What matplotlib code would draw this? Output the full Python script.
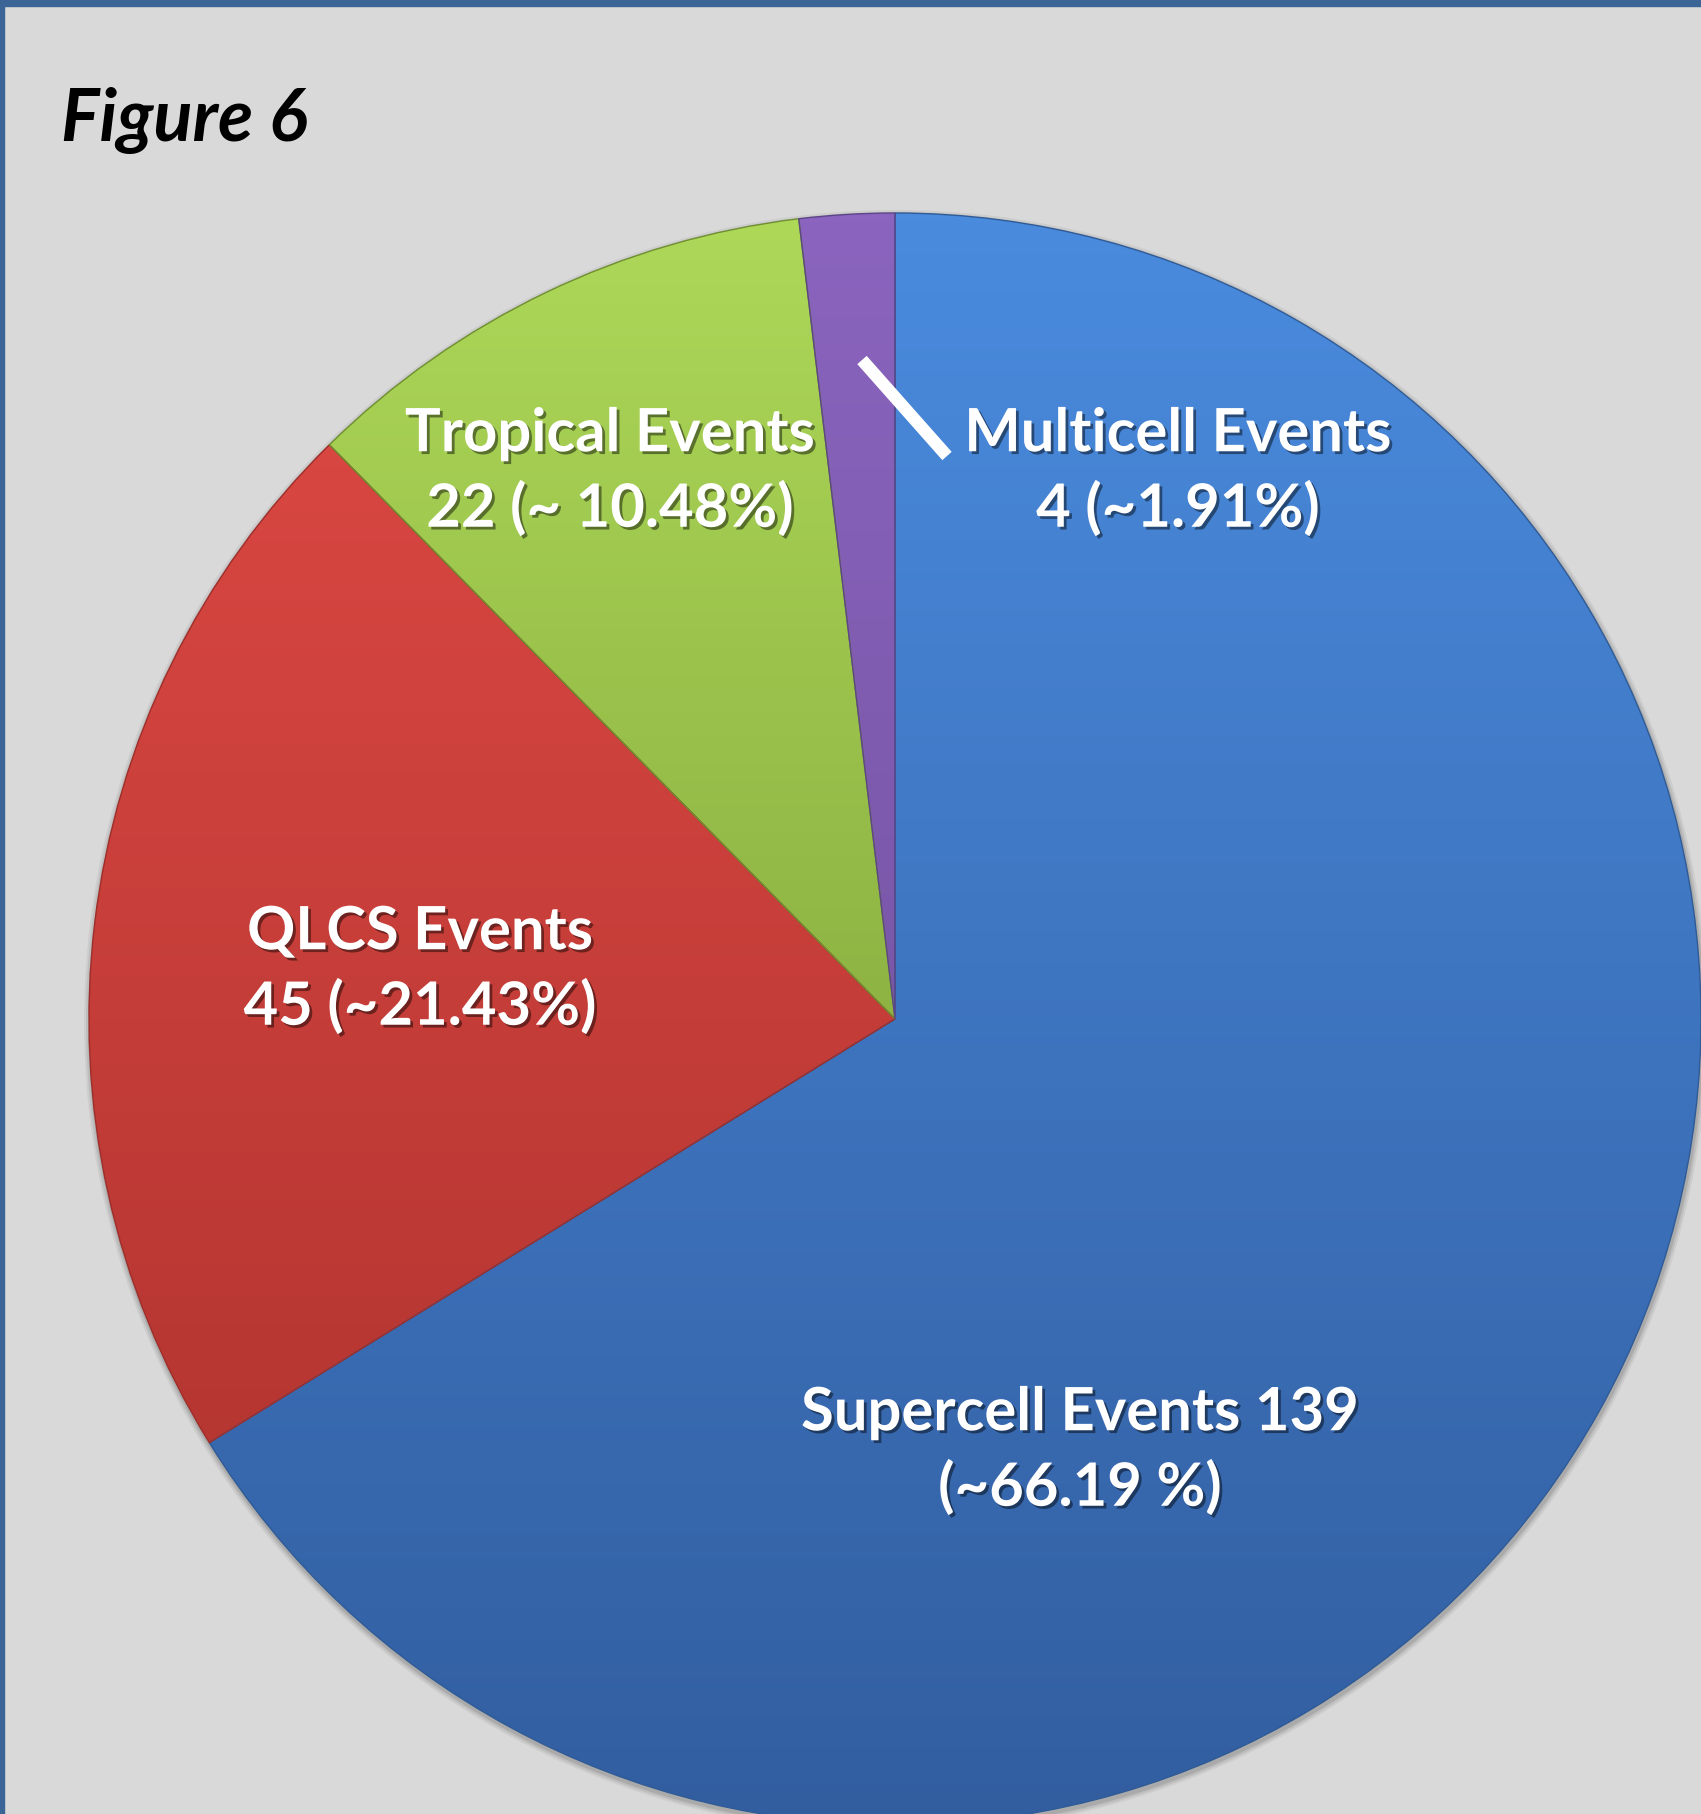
import matplotlib
matplotlib.use("Agg")
import matplotlib.pyplot as plt
import matplotlib.patheffects as pe
from matplotlib.colors import LinearSegmentedColormap
import numpy as np

categories = ["Supercell Events", "QLCS Events", "Tropical Events", "Multicell Events"]
counts = [139, 45, 22, 4]
label_lines = [
    "Supercell Events 139\n(~66.19 %)",
    "QLCS Events\n45 (~21.43%)",
    "Tropical Events\n22 (~ 10.48%)",
    "Multicell Events\n4 (~1.91%)",
]
top_colors = ["#4A8BDE", "#E04A45", "#ADD858", "#8A64BE"]
bottom_colors = ["#325EA0", "#A9302C", "#6E8E2E", "#684A92"]
edge_colors = ["#2F5B96", "#9E2E2A", "#6F8F30", "#5E4488"]
title = "Figure 6"

W, H = 1701, 1815
fig = plt.figure(figsize=(W / 100, H / 100), dpi=100)
fig.patch.set_facecolor("#D9D9D9")
ax = fig.add_axes([0, 0, 1, 1])
ax.set_xlim(0, W)
ax.set_ylim(0, H)
ax.set_aspect("equal")
ax.axis("off")

cx, cy, r = 895, H - 1020, 806

# soft shadow
for k, a in [(6, 0.05), (4, 0.07), (2, 0.1)]:
    ax.add_patch(plt.Circle((cx + 1, cy - 3), r + k, color="#000000", alpha=a, zorder=0, lw=0))

wedges, _ = ax.pie(counts, startangle=90, counterclock=False, radius=r,
                   center=(cx, cy), frame=True,
                   wedgeprops=dict(linewidth=1.0))
ax.set_xlim(0, W)
ax.set_ylim(0, H)
ax.axis("off")

grad = np.linspace(0, 1, 256).reshape(-1, 1)
for w, tc, bc, ec in zip(wedges, top_colors, bottom_colors, edge_colors):
    cmap = LinearSegmentedColormap.from_list("g", [bc, tc])
    im = ax.imshow(grad, cmap=cmap, extent=[cx - r, cx + r, cy - r, cy + r],
                   origin="lower", aspect="auto", zorder=1, interpolation="bilinear")
    im.set_clip_path(w)
    w.set_facecolor("none")
    w.set_edgecolor(ec)
    w.set_zorder(2)

# leader line for Multicell
ax.plot([862, 947], [H - 361, H - 457], color="white", lw=9, solid_capstyle="butt", zorder=3)

label_pos = [(1080, 1452), (420, 971), (610, 473), (1178, 473)]
shadow_fx = [pe.SimplePatchShadow(offset=(2, -2), shadow_rgbFace="k", alpha=0.45), pe.Normal()]
for txt, (x, y) in zip(label_lines, label_pos):
    ax.text(x, H - y, txt, color="white", fontsize=43, fontweight="bold",
            family="Lato", ha="center", va="center", linespacing=1.42,
            path_effects=shadow_fx, zorder=4)

fig.text(61 / W, 1 - 120 / H, title, fontsize=52, fontweight="bold", fontstyle="italic",
         family="Lato", color="black", ha="left", va="center")

# border (top and left)
ax.add_patch(plt.Rectangle((0, H - 7), W, 7, color="#3A6596", zorder=5, clip_on=False))
ax.add_patch(plt.Rectangle((0, 0), 3.5, H, color="#3A6596", zorder=5, clip_on=False))

fig.savefig("out.png", dpi=100, facecolor=fig.get_facecolor())
